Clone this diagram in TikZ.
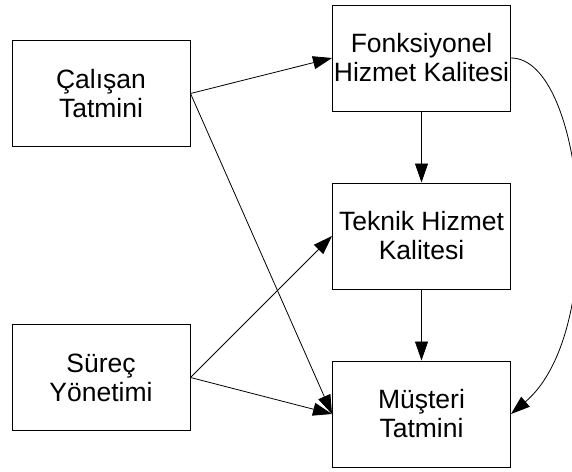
\documentclass[tikz,border=0pt]{standalone}
\usepackage{fontspec}
\setmainfont{Liberation Sans}
\usetikzlibrary{arrows.meta}
\begin{document}
\begin{tikzpicture}[x=1pt,y=-1pt,
  box/.style={draw=black, line width=1pt, rectangle, minimum width=178pt,
    minimum height=106pt, inner sep=0pt, align=center,
    font=\fontsize{26.5}{29}\selectfont},
  link/.style={draw=black, line width=0.8pt,
    -{Triangle[length=19pt,width=13pt]}}
]
  \useasboundingbox (0,0) rectangle (572,471);
  \clip (0,0) rectangle (572,471);

  % boxes
  \node[box] (cal) at (101,93.5)  {Çalışan\\Tatmini};
  \node[box] (sur) at (101,377.5) {Süreç\\Yönetimi};
  \node[box] (fon) at (421.5,58)  {Fonksiyonel\\Hizmet Kalitesi};
  \node[box] (tek) at (421.5,236) {Teknik Hizmet\\Kalitesi};
  \node[box] (mus) at (421.5,414) {Müşteri\\Tatmini};

  % straight links
  \draw[link] (cal.east) -- (fon.west);
  \draw[link] (cal.east) -- (mus.west);
  \draw[link] (sur.east) -- (tek.west);
  \draw[link] (sur.east) -- (mus.west);
  \draw[link] (fon.south) -- (tek.north);
  \draw[link] (tek.south) -- (mus.north);

  % curved link on the right
  \draw[link] (fon.east) .. controls (585,58) and (610,330) .. (mus.east);
\end{tikzpicture}
\end{document}
